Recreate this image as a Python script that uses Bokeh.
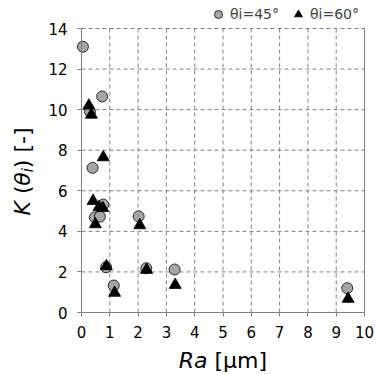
import math
from bokeh.plotting import figure
from bokeh.models import Range1d, LinearAxis, Label, Legend, FixedTicker
from bokeh.embed import file_html
from bokeh.resources import INLINE

# ---- data ----
x_ticks = list(range(0, 11))
y_ticks = list(range(0, 15, 2))

ra_45 = [0.05, 0.73, 0.30, 0.39, 0.77, 0.47, 0.65, 2.02, 0.87, 1.14, 2.29, 3.29, 9.39]
k_45 = [13.1, 10.65, 9.9, 7.13, 5.32, 4.69, 4.73, 4.74, 2.23, 1.33, 2.18, 2.12, 1.2]

ra_60 = [0.26, 0.35, 0.77, 0.41, 0.62, 0.75, 0.49, 2.06, 0.88, 1.17, 2.30, 3.31, 9.42]
k_60 = [10.2, 9.75, 7.65, 5.5, 5.2, 5.15, 4.35, 4.3, 2.28, 0.97, 2.1, 1.36, 0.67]

legend_labels = ["θi=45°", "θi=60°"]
x_title = ("Ra", "[µm]")
y_title = ("K", "(", "θ", "i", ") [-]")

# ---- layout (page pixels) ----
W, H = 374, 372
X0, X1 = 81, 364      # page px of x=0 and x=10
Y0, Y1 = 312, 28      # page px of y=0 and y=14
XS = (X1 - X0) / (x_ticks[-1] - x_ticks[0])
YS = (Y0 - Y1) / (y_ticks[-1] - y_ticks[0])

def dx(px):
    return (px - X0) / XS

def dy(py):
    return (Y0 - py) / YS

FONT = "DejaVu Sans"
GRID = "#808080"
AXIS = "#7f7f7f"

p = figure(width=W, height=H, x_range=Range1d(dx(0), dx(W)), y_range=Range1d(dy(H), dy(0)),
           x_axis_type=None, y_axis_type=None, output_backend="svg",
           toolbar_location=None, min_border=0)
p.outline_line_color = None
p.xgrid.visible = False
p.ygrid.visible = False

xmin, xmax = x_ticks[0], x_ticks[-1]
ymin, ymax = y_ticks[0], y_ticks[-1]

# dashed grid limited to the plot box
p.segment(x0=x_ticks[1:-1], y0=[ymin] * (len(x_ticks) - 2), x1=x_ticks[1:-1],
          y1=[ymax] * (len(x_ticks) - 2), line_color=GRID, line_dash="4 3", line_width=1)
p.segment(x0=[xmin] * (len(y_ticks) - 1), y0=y_ticks[1:], x1=[xmax] * (len(y_ticks) - 1),
          y1=y_ticks[1:], line_color=GRID, line_dash="4 3", line_width=1)
# solid right border
p.segment(x0=[xmax], y0=[ymin], x1=[xmax], y1=[ymax], line_color=AXIS, line_width=1)

xa = LinearAxis(fixed_location=ymin, bounds=(xmin, xmax), ticker=FixedTicker(ticks=x_ticks))
ya = LinearAxis(fixed_location=xmin, bounds=(ymin, ymax), ticker=FixedTicker(ticks=y_ticks))
for ax in (xa, ya):
    ax.axis_line_color = AXIS
    ax.major_tick_line_color = AXIS
    ax.major_tick_out = 4
    ax.major_tick_in = 0
    ax.minor_tick_out = 0
    ax.minor_tick_in = 0
    ax.major_label_text_font = FONT
    ax.major_label_text_font_size = "15px"
    ax.major_label_text_color = "black"
xa.major_label_standoff = 9
ya.major_label_standoff = 10
p.add_layout(xa, "below")
p.add_layout(ya, "left")

r45 = p.scatter(ra_45, k_45, marker="circle", size=11, fill_color="#a6a6a6",
                line_color="black", line_width=0.8)
r60 = p.scatter(ra_60, k_60, marker="triangle", size=12, fill_color="black",
                line_color="black", line_width=0.8)

for label, rend, lx in ((legend_labels[0], r45, 208), (legend_labels[1], r60, 288)):
    lg = Legend(items=[(label, [rend])], orientation="horizontal",
                location=(lx, H - 24), padding=0, margin=0, spacing=0,
                label_standoff=2, glyph_width=20, glyph_height=20,
                label_text_font=FONT, label_text_font_size="14px",
                border_line_color=None, background_fill_alpha=0)
    p.add_layout(lg)

# x-axis title: "Ra" italic + "[µm]"
split_px, base_py = 207, 360
p.add_layout(Label(x=dx(split_px), y=dy(base_py), text=x_title[0], text_align="right",
                   text_baseline="alphabetic", text_font=FONT, text_font_size="22px",
                   text_font_style="italic", text_color="black"))
p.add_layout(Label(x=dx(split_px + 7), y=dy(base_py), text=x_title[1], text_align="left",
                   text_baseline="alphabetic", text_font=FONT, text_font_size="22px",
                   text_color="black"))

# y-axis title: "K (θi) [-]" rotated, pieces centred bottom to top
pieces = [(207.8, 21.5, "italic", "22px"),
          (189.3, 21.5, "normal", "22px"),
          (178.4, 21.5, "italic", "22px"),
          (169.7, 27.8, "italic", "15px"),
          (147.3, 21.5, "normal", "22px")]
for txt, (py, px, style, fs) in zip(y_title, pieces):
    p.add_layout(Label(x=dx(px), y=dy(py), text=txt, angle=math.pi / 2,
                       text_align="center", text_baseline="middle", text_font=FONT,
                       text_font_size=fs, text_font_style=style, text_color="black"))

open("out.html", "w").write(file_html(p, INLINE))
